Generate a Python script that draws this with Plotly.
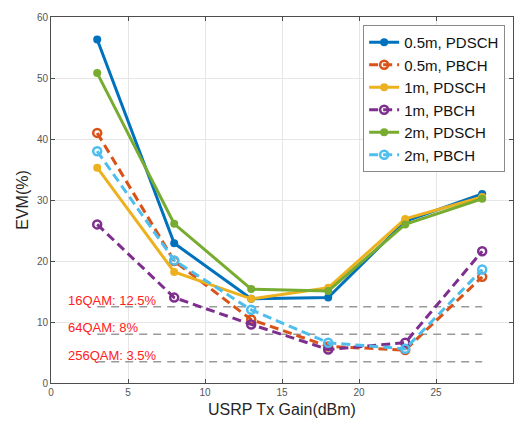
import plotly.graph_objects as go

gain = [3, 8, 13, 18, 23, 28]
evm_05_pdsch = [56.3, 22.9, 13.8, 14.0, 26.5, 31.0]
evm_05_pbch = [41.0, 20.0, 10.4, 6.0, 5.4, 17.4]
evm_1_pdsch = [35.3, 18.2, 13.8, 15.6, 26.9, 30.5]
evm_1_pbch = [26.0, 14.0, 9.6, 5.5, 6.6, 21.6]
evm_2_pdsch = [50.8, 26.1, 15.4, 15.1, 26.0, 30.2]
evm_2_pbch = [38.0, 20.1, 12.0, 6.6, 5.6, 18.6]

series = [
    ("0.5m, PDSCH", evm_05_pdsch, "#0072BD", "solid"),
    ("0.5m, PBCH", evm_05_pbch, "#D95319", "dash"),
    ("1m, PDSCH", evm_1_pdsch, "#EDB120", "solid"),
    ("1m, PBCH", evm_1_pbch, "#7E2F8E", "dash"),
    ("2m, PDSCH", evm_2_pdsch, "#77AC30", "solid"),
    ("2m, PBCH", evm_2_pbch, "#4DBEEE", "dash"),
]

thresholds = [12.5, 8, 3.5]
threshold_labels = ["16QAM: 12.5%", "64QAM: 8%", "256QAM: 3.5%"]
thr_x = [3, 28]
label_x = 1

fig = go.Figure()

for t in thresholds:
    fig.add_trace(go.Scatter(x=thr_x, y=[t, t], mode="lines",
                             line=dict(color="#9a9a9a", width=1.5, dash="8px,6px"),
                             showlegend=False, hoverinfo="skip"))

for name, ys, color, dash in series:
    if dash == "solid":
        marker = dict(symbol="circle", size=8, color=color)
        ld = "solid"
    else:
        marker = dict(symbol="circle-open", size=8, color=color, line=dict(width=2.5, color=color))
        ld = "9px,5px"
    fig.add_trace(go.Scatter(x=gain, y=ys, name=name, mode="lines+markers",
                             line=dict(color=color, width=3, dash=ld),
                             marker=marker))

for t, lab in zip(thresholds, threshold_labels):
    fig.add_annotation(x=label_x, y=t, text=lab, showarrow=False,
                       xanchor="left", yanchor="bottom", yshift=-3,
                       font=dict(family="Liberation Sans, Arial", size=13, color="#ff2020"))

axis_common = dict(showline=True, linecolor="#4d4d4d", linewidth=1, mirror="ticks",
                   ticks="inside", ticklen=4, tickcolor="#4d4d4d",
                   showgrid=True, gridcolor="#e6e6e6", gridwidth=1, zeroline=False,
                   tickfont=dict(family="Liberation Sans, Arial", size=10, color="#555555"))

fig.update_xaxes(range=[0, 30], dtick=5, tick0=0,
                 title=dict(text="USRP Tx Gain(dBm)", standoff=6,
                            font=dict(family="Liberation Sans, Arial", size=16, color="#262626")),
                 **axis_common)
fig.update_yaxes(range=[0, 60], dtick=10, tick0=0,
                 title=dict(text="EVM(%)", standoff=4,
                            font=dict(family="Liberation Sans, Arial", size=16, color="#262626")),
                 **axis_common)

fig.update_layout(
    width=515, height=421,
    margin=dict(l=51, r=2, t=17, b=38),
    paper_bgcolor="white", plot_bgcolor="white",
    legend=dict(x=0.983, y=0.978, xanchor="right", yanchor="top",
                bgcolor="white", bordercolor="#8a8a8a", borderwidth=1,
                font=dict(family="Liberation Sans, Arial", size=15, color="#111111"),
                tracegroupgap=0, itemwidth=30),
    showlegend=True,
)

fig.write_html("out.html", config={"displayModeBar": False},
               post_script="document.body.style.margin='0';document.body.style.overflow='hidden';")
